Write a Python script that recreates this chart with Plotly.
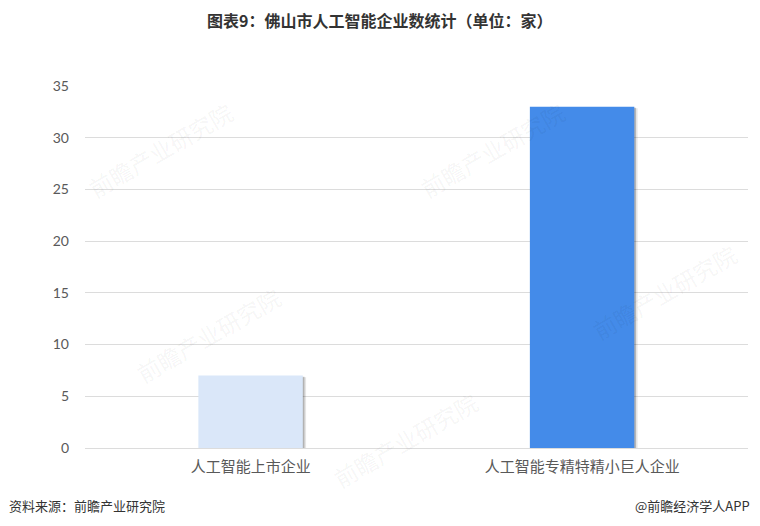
import plotly.graph_objects as go

categories = ["人工智能上市企业", "人工智能专精特精小巨人企业"]
values = [7, 33]
colors = ["#DAE7F9", "#448BE9"]
y_ticks = [0, 5, 10, 15, 20, 25, 30, 35]

# plot area in page pixels (page has 8px body margin)
PL, PR, PT, PB = 85, 748, 86, 448
def px(X):
    return (X - PL) / (PR - PL)
def py(Y):
    return (PB - Y) / (PB - PT)

fig = go.Figure()
# soft shadow behind bars
fig.add_trace(go.Bar(x=categories, y=[v - 0.15 for v in values], width=0.315, offset=-0.148,
                     marker=dict(color="rgba(0,0,0,0.10)", line=dict(width=0)),
                     hoverinfo="skip", showlegend=False))
fig.add_trace(go.Bar(x=categories, y=[v - 0.1 for v in values], width=0.315, offset=-0.153,
                     marker=dict(color="rgba(0,0,0,0.22)", line=dict(width=0)),
                     hoverinfo="skip", showlegend=False))
fig.add_trace(go.Bar(x=categories, y=values, width=0.315, offset=-0.158,
                     marker=dict(color=colors, line=dict(width=0)),
                     showlegend=False))

fig.update_layout(
    width=744, height=510,
    margin=dict(l=77, r=4, t=78, b=70),
    barmode="overlay",
    plot_bgcolor="white", paper_bgcolor="white",
    font=dict(family="Noto Sans CJK SC, sans-serif", color="#595959", size=13),
    xaxis=dict(showgrid=False, showline=False, ticks="", ticklabelstandoff=8,
               tickfont=dict(size=15, color="#595959", family="Noto Sans CJK SC")),
    yaxis=dict(range=[0, 35], tickvals=y_ticks, showgrid=True, gridcolor="#DCDCDC",
               gridwidth=1, zeroline=True, zerolinecolor="#DCDCDC", zerolinewidth=1,
               ticks="", ticklabelstandoff=15,
               tickfont=dict(size=14, color="#595959", family="Lato, sans-serif")),
)

# faint watermarks
for (X, Y) in [(160, 150), (492, 150), (208, 335), (664, 292), (405, 440)]:
    fig.add_annotation(text="前瞻产业研究院", xref="paper", yref="paper",
                       x=px(X), y=py(Y), xanchor="center", yanchor="middle",
                       showarrow=False, textangle=-30,
                       font=dict(size=23, color="rgba(0,0,0,0.05)", family="Noto Sans CJK SC"))

fig.add_annotation(text="<b>图表9：佛山市人工智能企业数统计（单位：家）</b>",
                   xref="paper", yref="paper", x=px(379), y=py(20),
                   xanchor="center", yanchor="middle", showarrow=False,
                   font=dict(size=16, color="#333333", family="Noto Sans CJK SC"))
fig.add_annotation(text="资料来源：前瞻产业研究院", xref="paper", yref="paper",
                   x=px(7), y=py(505), xanchor="left", yanchor="middle",
                   showarrow=False, font=dict(size=13, color="#333333"))
fig.add_annotation(text="@前瞻经济学人APP", xref="paper", yref="paper",
                   x=px(752), y=py(505), xanchor="right", yanchor="middle",
                   showarrow=False, font=dict(size=13, color="#333333"))

fig.write_html("out.html")
